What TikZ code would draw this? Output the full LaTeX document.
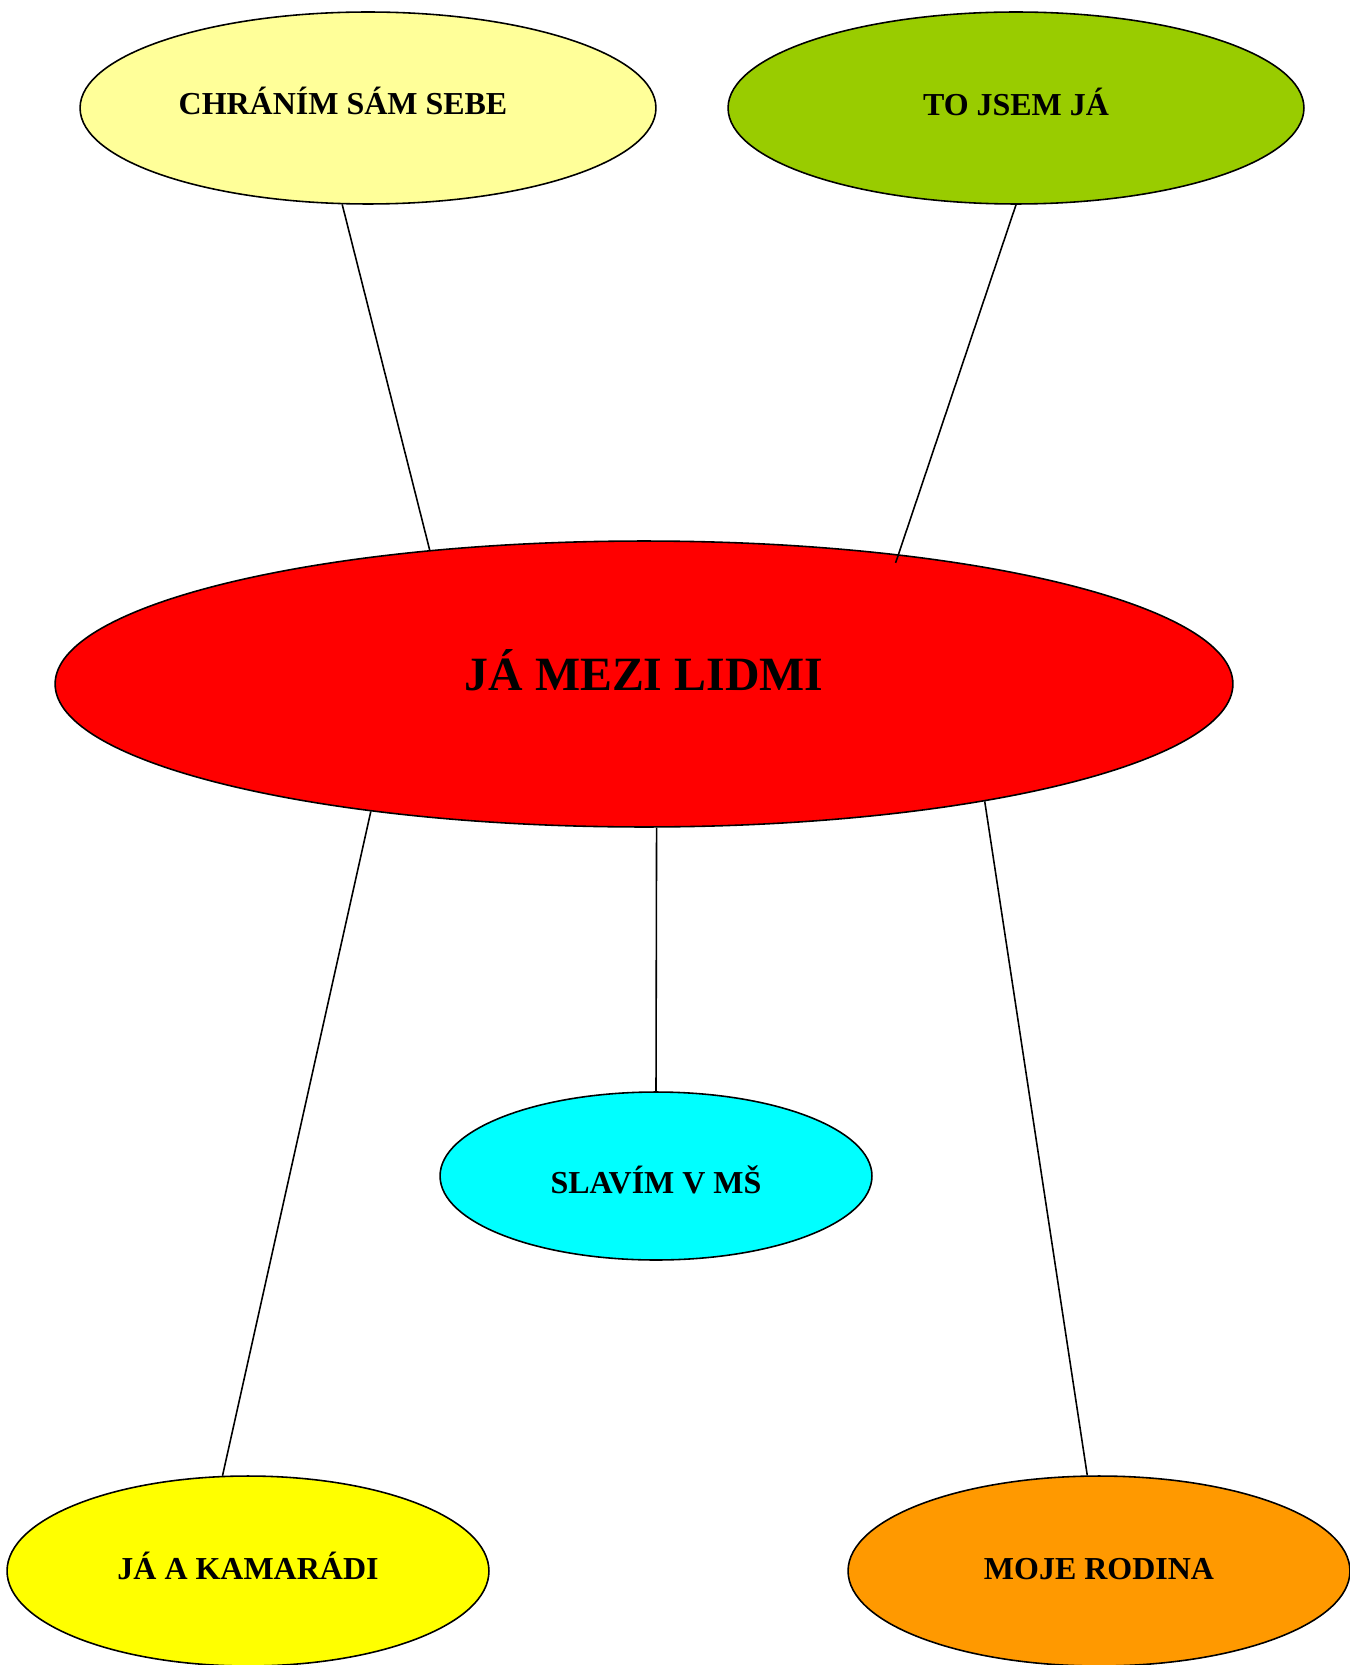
\documentclass[tikz,border=0pt]{standalone}
\usepackage{fontspec}
\setmainfont{Liberation Serif}
\usetikzlibrary{shapes.geometric}
\definecolor{lightyel}{HTML}{FFFF99}
\definecolor{leafgreen}{HTML}{99CC00}
\definecolor{skycyan}{HTML}{00FFFF}
\definecolor{pureyel}{HTML}{FFFF00}
\definecolor{hubred}{HTML}{FF0000}
\definecolor{topicorange}{HTML}{FF9900}
\begin{document}
\begin{tikzpicture}[x=0.02cm,y=-0.02cm]
    \tikzstyle{topic}=[ellipse,draw=black,line width=0.9pt,inner sep=0pt,
      text height=12pt,text depth=0pt,
      font=\bfseries\fontsize{18.2}{20}\selectfont]
    \tikzstyle{hub}=[ellipse,draw=black,line width=0.9pt,inner sep=0pt,
      fill=hubred,minimum width=23.56cm,minimum height=5.72cm,
      text height=18pt,text depth=0pt,
      font=\bfseries\fontsize{27.2}{29}\selectfont]
    \tikzstyle{link}=[line width=0.9pt]

    \useasboundingbox (0,0) rectangle (1349,1665);

    \node[topic,fill=lightyel,minimum width=11.52cm,minimum height=3.84cm]
      (chranim) at (368,108) {\raisebox{0.08cm}{CHRÁNÍM SÁM SEBE}\hspace*{1cm}};
    \node[topic,fill=leafgreen,minimum width=11.52cm,minimum height=3.84cm]
      (tojsem) at (1016,108) {\raisebox{0.06cm}{TO JSEM JÁ}};
    \node[hub](lidi) at (644,684) {\raisebox{0.18cm}{JÁ MEZI LIDMI}};
    \node[topic,fill=skycyan,minimum width=8.64cm,minimum height=3.36cm]
      (slavim) at (656,1176) {\raisebox{-0.14cm}{SLAVÍM V MŠ}};
    \node[topic,fill=pureyel,minimum width=9.64cm,minimum height=3.8cm]
      (kamaradi) at (248,1571) {\raisebox{0.04cm}{JÁ A KAMARÁDI}};
    \node[topic,fill=topicorange,minimum width=10.04cm,minimum height=3.8cm]
      (rodina) at (1099,1571) {\raisebox{0.04cm}{MOJE RODINA}};

    \path[link]
      (chranim.255) edge (lidi.148)
      (tojsem.south) edge[shorten >=-0.18cm] (lidi.27)
      (lidi.205.5) edge (kamaradi.105)
      (lidi.275) edge (slavim.north)
      (lidi.341.7) edge (rodina.97);
\end{tikzpicture}
\end{document}
